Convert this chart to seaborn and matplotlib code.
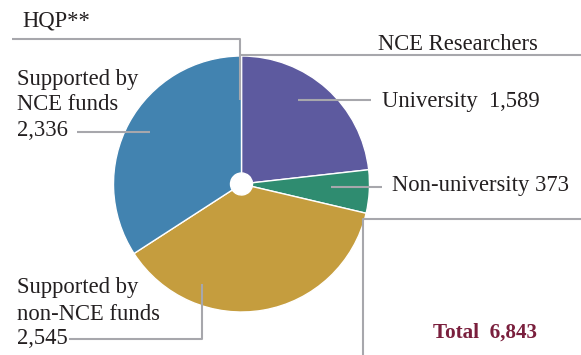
import matplotlib
matplotlib.use("Agg")
import matplotlib.pyplot as plt
import seaborn as sns

# ---- data ----
categories = ["University", "Non-university", "Supported by non-NCE funds", "Supported by NCE funds"]
values = [1589, 373, 2545, 2336]
value_labels = ["1,589", "373", "2,545", "2,336"]
total_label = "6,843"
colors = ["#5d5a9f", "#2f8c70", "#c59d3e", "#4283b0"]

sns.set_theme(style="white")
plt.rcParams["font.family"] = ["Liberation Serif", "DejaVu Serif"]

W, H = 581, 355
fig = plt.figure(figsize=(W / 100, H / 100), dpi=100)
ax = fig.add_axes([0, 0, 1, 1])
ax.set_xlim(0, W)
ax.set_ylim(0, H)

def py(y):  # pixel row -> data y
    return H - y

cx, cy, R, hole = 241.5, py(184), 128, 11
ax.pie(values, colors=sns.color_palette(colors), startangle=90, counterclock=False,
       center=(cx, cy), radius=R,
       wedgeprops=dict(width=R - hole, edgecolor="white", linewidth=1.0))
ax.set_xlim(0, W)
ax.set_ylim(0, H)
ax.set_aspect("equal")
ax.axis("off")

lc = "#a7a7ac"
lw = 1.5
def line(xs, ys):
    ax.plot(xs, [py(v) for v in ys], color=lc, lw=lw, solid_capstyle="butt", clip_on=False)

line([12, 240, 240], [39, 39, 100])          # HQP
line([241, 581], [55, 55])                   # NCE Researchers
line([298, 371], [100, 100])                 # University
line([331, 382], [187, 187])                 # Non-university
line([581, 363, 363], [219, 219, 355])       # bracket
line([77, 150], [132, 132])                  # NCE funds
line([202, 202, 69], [284, 339, 339])        # non-NCE funds

tc = "#231f20"
fs = 16.3
def txt(x, y, s, **kw):
    ax.text(x, py(y), s, fontsize=kw.pop("fs", fs), color=kw.pop("color", tc),
            ha="left", va="center", **kw)

txt(22, 21, "HQP**")
txt(378, 44, "NCE Researchers")
txt(382, 101, f"{categories[0]}  {value_labels[0]}")
txt(392, 186, f"{categories[1]} {value_labels[1]}")
txt(17, 79, "Supported by")
txt(17, 104, "NCE funds")
txt(17, 130, value_labels[3])
txt(17, 288, "Supported by")
txt(17, 314, "non-NCE funds")
txt(17, 338, value_labels[2])
txt(433, 333, f"Total  {total_label}", color="#7a1f3d", fontweight="bold", fs=15.2)

fig.savefig("out.png", dpi=100)
